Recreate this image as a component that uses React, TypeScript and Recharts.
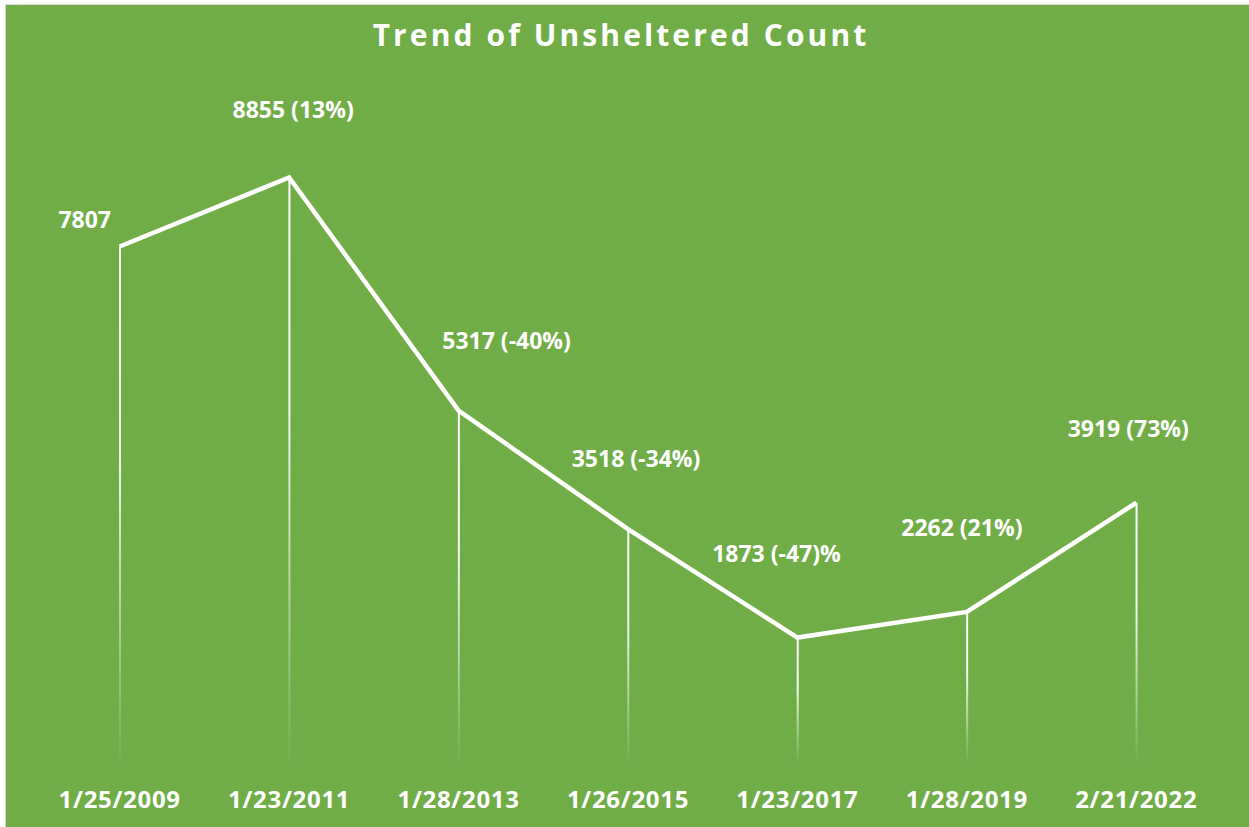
import { ComposedChart, Line, Bar, XAxis, YAxis, LabelList } from "recharts";

// counts per survey date
const dates = ["1/25/2009", "1/23/2011", "1/28/2013", "1/26/2015", "1/23/2017", "1/28/2019", "2/21/2022"];
const counts = [7807, 8855, 5317, 3518, 1873, 2262, 3919];
const pointLabels = ["7807", "8855 (13%)", "5317 (-40%)", "3518 (-34%)", "1873 (-47)%", "2262 (21%)", "3919 (73%)"];

// label nudges (dx, dy from the point), labels were hand placed in the original
const LABEL_DX = [-35, 4, 48, 8, -21, -5, -8];
const LABEL_DY = [-28, -68, -71, -71, -85, -85, -75];

const GREEN = "#70AD47";
const FONT = "'Open Sans', sans-serif";

const data = dates.map((d, i) => ({ date: d, count: counts[i], label: pointLabels[i] }));

const renderLabel = ({ x, y, index }: any) => (
  <text
    x={x + LABEL_DX[index]}
    y={y + LABEL_DY[index]}
    textAnchor="middle"
    dominantBaseline="central"
    fontSize={23}
    fontWeight={700}
    fontFamily={FONT}
    fill="#fff"
  >
    {pointLabels[index]}
  </text>
);

export default function App() {
  return (
    <div style={{ position: "absolute", left: 0, top: 0, width: 1249, height: 827, background: "#fff", overflow: "hidden" }}>
      <div
        style={{
          position: "absolute",
          left: 5,
          top: 4,
          width: 1243,
          height: 822,
          background: GREEN,
          borderLeft: "1px solid #d9d9d9",
          borderTop: "1px solid #d9d9d9",
        }}
      >
        <div
          style={{
            position: "absolute",
            left: 0,
            right: 0,
            top: 9,
            textAlign: "center",
            color: "#fff",
            fontFamily: FONT,
            fontWeight: 700,
            fontSize: 30,
            letterSpacing: 3.1,
            paddingRight: 13,
          }}
        >
          Trend of Unsheltered Count
        </div>
        <ComposedChart width={1243} height={822} data={data} margin={{ top: 97, right: 28, bottom: 0, left: 29 }}>
          <defs>
            <linearGradient id="dropFade" x1="0" y1="0" x2="0" y2="1">
              <stop offset="0%" stopColor="#fff" stopOpacity={1} />
              <stop offset="40%" stopColor="#fff" stopOpacity={0.92} />
              <stop offset="100%" stopColor="#fff" stopOpacity={0.03} />
            </linearGradient>
          </defs>
          <XAxis
            dataKey="date"
            axisLine={false}
            tickLine={false}
            height={66}
            interval={0}
            tick={{ fill: "#fff", fontSize: 24, fontWeight: 700, fontFamily: FONT, letterSpacing: 0.7 }}
            dy={22}
          />
          <YAxis hide domain={[0, 10000]} />
          <Bar dataKey="count" barSize={2} fill="url(#dropFade)" isAnimationActive={false} />
          <Line
            type="linear"
            dataKey="count"
            stroke="#fff"
            strokeWidth={4.5}
            dot={false}
            activeDot={false}
            isAnimationActive={false}
          >
            <LabelList dataKey="label" content={renderLabel} />
          </Line>
        </ComposedChart>
      </div>
    </div>
  );
}
